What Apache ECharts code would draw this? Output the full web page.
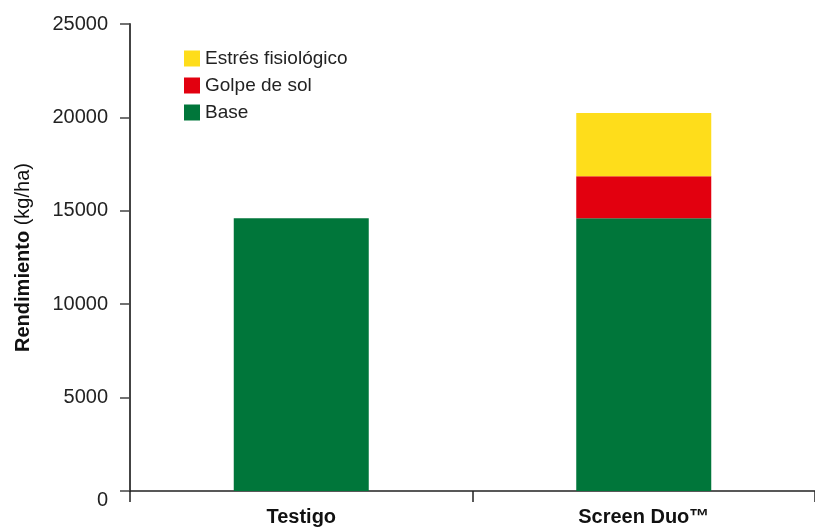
<!DOCTYPE html>
<html>
<head>
<meta charset="utf-8">
<script src="https://cdn.jsdelivr.net/npm/echarts@6/dist/echarts.min.js"></script>
<style>
  html, body { margin: 0; padding: 0; background: #fff; }
  #chart { width: 815px; height: 529px; }
</style>
</head>
<body>
<div id="chart"></div>
<script>
// categorias y valores (kg/ha)
const categories = ["Testigo", "Screen Duo™"];
const baseValues = [14600, 14600];
const golpeValues = ["-", 2250];
const estresValues = ["-", 3380];
const legendNames = ["Estrés fisiológico", "Golpe de sol", "Base"];

const colorList = ["#00763a", "#e2000f", "#fedd1b"];
const font = "'Liberation Sans', Arial, sans-serif";

const chart = echarts.init(document.getElementById("chart"));

chart.setOption({
  backgroundColor: "#fff",
  animation: false,
  textStyle: { fontFamily: font },
  grid: {
    left: 130,
    right: 0,
    top: 24,
    bottom: 38,
  },
  legend: {
    data: legendNames,
    orient: "vertical",
    left: 184,
    top: 49,
    padding: 0,
    icon: "rect",
    itemWidth: 16,
    itemHeight: 16,
    itemGap: 8,
    textStyle: {
      fontFamily: font,
      fontSize: 19,
      color: "#222",
    },
  },
  xAxis: {
    type: "category",
    data: categories,
    axisLine: {
      lineStyle: { color: "#222", width: 1.5 },
    },
    axisTick: {
      show: true,
      length: 11,
      lineStyle: { color: "#222", width: 1.5 },
    },
    axisLabel: {
      fontFamily: font,
      fontSize: 20,
      fontWeight: "bold",
      color: "#111",
      margin: 16,
    },
  },
  yAxis: {
    type: "value",
    min: 0,
    max: 25000,
    interval: 5000,
    name: "{b|Rendimiento} (kg/ha)",
    nameLocation: "middle",
    nameGap: 97,
    nameTextStyle: {
      fontFamily: font,
      fontSize: 20,
      color: "#111",
      rich: {
        b: { fontFamily: font, fontSize: 20, fontWeight: "bold", color: "#111" },
      },
    },
    axisLine: {
      show: true,
      lineStyle: { color: "#444", width: 2 },
    },
    axisTick: {
      show: true,
      length: 10,
      lineStyle: { color: "#444", width: 1.5 },
    },
    axisLabel: {
      fontFamily: font,
      fontSize: 20,
      color: "#222",
      margin: 22,
      // el 0 queda algo por debajo de su marca
      formatter: (v) => (v === 0 ? "{z|0}" : String(v)),
      rich: {
        z: { fontFamily: font, fontSize: 20, color: "#222", padding: [18, 0, 0, 0] },
      },
    },
    splitLine: { show: false },
  },
  series: [
    {
      name: "Base",
      type: "bar",
      stack: "total",
      barWidth: 135,
      data: baseValues,
      itemStyle: { color: colorList[0] },
    },
    {
      name: "Golpe de sol",
      type: "bar",
      stack: "total",
      barWidth: 135,
      data: golpeValues,
      itemStyle: { color: colorList[1] },
    },
    {
      name: "Estrés fisiológico",
      type: "bar",
      stack: "total",
      barWidth: 135,
      data: estresValues,
      itemStyle: { color: colorList[2] },
    },
  ],
});
</script>
</body>
</html>
